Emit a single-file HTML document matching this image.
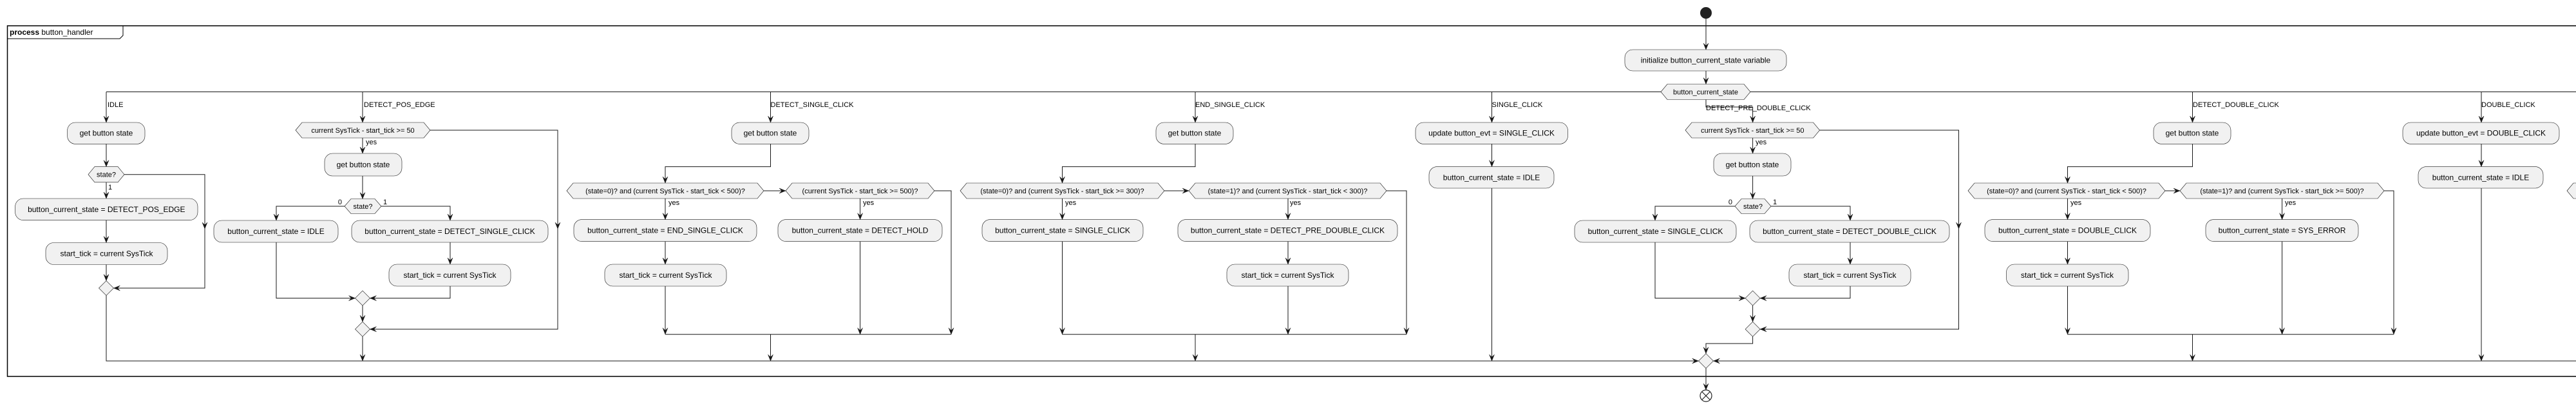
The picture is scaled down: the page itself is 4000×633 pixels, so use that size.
<!DOCTYPE html>
<html><head><meta charset="utf-8"><style>
html,body{margin:0;padding:0;background:#fff;}
svg{display:block;}
text{font-family:"Liberation Sans",sans-serif;fill:#000;}
.b{font-size:12px;text-anchor:middle;}
.h{font-size:11px;text-anchor:middle;}
.l{font-size:11px;}
rect{fill:#F1F1F1;stroke:#181818;stroke-width:0.6;}
.hx{fill:#F1F1F1;stroke:#181818;stroke-width:0.6;}
.ln{fill:none;stroke:#181818;stroke-width:1;}
.a{fill:#181818;stroke:#181818;stroke-width:0.5;}
</style></head><body>
<svg width="4000" height="633" viewBox="0 0 4000 633" xmlns="http://www.w3.org/2000/svg">
<!-- frame -->
<rect x="11.5" y="40" width="4100" height="544" style="fill:none;stroke:#000;stroke-width:1.5"/>
<path d="M11.5,60 L186,60 L191,55 L191,40" style="fill:none;stroke:#000;stroke-width:1"/>
<text x="15" y="54" class="l" style="font-size:12px"><tspan font-weight="bold">process</tspan> button_handler</text>

<!-- start -->
<circle cx="2649" cy="20" r="9" fill="#222"/>
<path class="ln" d="M2649,29 V77"/><polygon class="a" points="2645,67 2649,77 2653,67 2649,71"/>
<rect x="2523" y="77" width="251" height="33" rx="12.5"/>
<text class="b" x="2648.5" y="97.5">initialize button_current_state variable</text>
<path class="ln" d="M2649,110 V130.5"/><polygon class="a" points="2645,120.5 2649,130.5 2653,120.5 2649,124.5"/>
<polygon class="hx" points="2579,142.5 2589,130.5 2708,130.5 2718,142.5 2708,154.5 2589,154.5"/>
<text class="h" x="2648.5" y="146.5">button_current_state</text>
<path class="ln" d="M165,142.5 H2579 M2718,142.5 H4000"/>

<!-- main merge -->
<path class="ln" d="M165,458.5 V560 H2637.5 M4000,560 H2660.5"/>
<polygon class="a" points="2627.5,556 2637.5,560 2627.5,564 2631.5,560"/>
<polygon class="a" points="2670.5,556 2660.5,560 2670.5,564 2666.5,560"/>
<polygon class="hx" points="2637.5,560 2649,548.5 2660.5,560 2649,571.5"/>
<path class="ln" d="M2649,571.5 V605"/><polygon class="a" points="2645,595 2649,605 2653,595 2649,599"/>
<circle cx="2649" cy="614" r="9" fill="#fff" stroke="#222" stroke-width="1.2"/>
<path d="M2643,608 L2655,620 M2655,608 L2643,620" stroke="#222" stroke-width="1.2"/>

<!-- Branch IDLE -->
<path class="ln" d="M165,142.5 V190"/><polygon class="a" points="161,180 165,190 169,180 165,184"/>
<text class="l" x="167" y="166">IDLE</text>
<rect x="104.6" y="190" width="120.4" height="33.4" rx="12.5"/>
<text class="b" x="165" y="210.7">get button state</text>
<path class="ln" d="M165,223.4 V258.6"/><polygon class="a" points="161,248.6 165,258.6 169,248.6 165,252.6"/>
<polygon class="hx" points="137,270.7 147,258.6 183,258.6 193,270.7 183,282.8 147,282.8"/>
<text class="h" x="165" y="274.7">state?</text>
<text class="l" x="168" y="294">1</text>
<path class="ln" d="M165,282.8 V308"/><polygon class="a" points="161,298 165,308 169,298 165,302"/>
<path class="ln" d="M193,270.7 H318 V447 H176.5"/>
<polygon class="a" points="314,345 318,355 322,345 318,349"/>
<polygon class="a" points="186.5,443 176.5,447 186.5,451 182.5,447"/>
<rect x="23.6" y="308" width="283.4" height="33.6" rx="12.5"/>
<text class="b" x="165.3" y="328.8">button_current_state = DETECT_POS_EDGE</text>
<path class="ln" d="M165,341.6 V376.5"/><polygon class="a" points="161,366.5 165,376.5 169,366.5 165,370.5"/>
<rect x="71" y="376.5" width="189" height="34" rx="12.5"/>
<text class="b" x="165.5" y="397.5">start_tick = current SysTick</text>
<path class="ln" d="M165,410.5 V435.5"/><polygon class="a" points="161,425.5 165,435.5 169,425.5 165,429.5"/>
<polygon class="hx" points="153.5,447 165,435.5 176.5,447 165,458.5"/>

<!-- Branch DETECT_POS_EDGE -->
<path class="ln" d="M563,142.5 V190"/><polygon class="a" points="559,180 563,190 567,180 563,184"/>
<text class="l" x="565" y="166">DETECT_POS_EDGE</text>
<polygon class="hx" points="459,202 469,190 658,190 668,202 658,214 469,214"/>
<text class="h" x="563.5" y="206">current SysTick - start_tick &gt;= 50</text>
<text class="l" x="568" y="224">yes</text>
<path class="ln" d="M563,214 V238"/><polygon class="a" points="559,228 563,238 567,228 563,232"/>
<rect x="504" y="238" width="120" height="35" rx="12.5"/>
<text class="b" x="564" y="259.5">get button state</text>
<path class="ln" d="M563,273 V308.5"/><polygon class="a" points="559,298.5 563,308.5 567,298.5 563,302.5"/>
<polygon class="hx" points="535,320 545,308.5 582,308.5 592,320 582,331.5 545,331.5"/>
<text class="h" x="563.5" y="324">state?</text>
<text class="l" x="531" y="317" text-anchor="end">0</text>
<text class="l" x="595" y="317">1</text>
<path class="ln" d="M535,320 H429 V342 M592,320 H699 V342"/>
<polygon class="a" points="425,332 429,342 433,332 429,336"/>
<polygon class="a" points="695,332 699,342 703,332 699,336"/>
<rect x="332" y="342" width="193" height="34" rx="12.5"/>
<text class="b" x="428.5" y="363">button_current_state = IDLE</text>
<rect x="546" y="342" width="305" height="34" rx="12.5"/>
<text class="b" x="698.5" y="363">button_current_state = DETECT_SINGLE_CLICK</text>
<path class="ln" d="M699,376 V410"/><polygon class="a" points="695,400 699,410 703,400 699,404"/>
<rect x="604" y="410" width="189" height="34" rx="12.5"/>
<text class="b" x="698.5" y="431">start_tick = current SysTick</text>
<path class="ln" d="M429,376 V462.6 H551.5 M699,444 V462.6 H574.5"/>
<polygon class="a" points="541.5,458.6 551.5,462.6 541.5,466.6 545.5,462.6"/>
<polygon class="a" points="584.5,458.6 574.5,462.6 584.5,466.6 580.5,462.6"/>
<polygon class="hx" points="551.5,462.6 563,451.1 574.5,462.6 563,474.1"/>
<path class="ln" d="M563,474.1 V499.2"/><polygon class="a" points="559,489.2 563,499.2 567,489.2 563,493.2"/>
<polygon class="hx" points="551.5,510.7 563,499.2 574.5,510.7 563,522.2"/>
<path class="ln" d="M668,202 H866 V510.7 H574.5"/>
<polygon class="a" points="862,345 866,355 870,345 866,349"/>
<polygon class="a" points="584.5,506.7 574.5,510.7 584.5,514.7 580.5,510.7"/>
<path class="ln" d="M563,522.2 V560"/><polygon class="a" points="559,550 563,560 567,550 563,554"/>

<!-- Branch DETECT_SINGLE_CLICK -->
<path class="ln" d="M1196.5,142.5 V190"/><polygon class="a" points="1192.5,180 1196.5,190 1200.5,180 1196.5,184"/>
<text class="l" x="1196.5" y="166">DETECT_SINGLE_CLICK</text>
<rect x="1136" y="190" width="120" height="33.4" rx="12.5"/>
<text class="b" x="1196" y="210.7">get button state</text>
<path class="ln" d="M1196.5,223.4 V258.6 H1033 V284"/><polygon class="a" points="1029,274 1033,284 1037,274 1033,278"/>
<polygon class="hx" points="880,296 890,284 1176,284 1186,296 1176,308 890,308"/>
<text class="h" x="1033" y="300">(state=0)? and (current SysTick - start_tick &lt; 500)?</text>
<path class="ln" d="M1186,296 H1220"/><polygon class="a" points="1210,292 1220,296 1210,300 1214,296"/>
<polygon class="hx" points="1220,296 1230,284 1441,284 1451,296 1441,308 1230,308"/>
<text class="h" x="1335.5" y="300">(current SysTick - start_tick &gt;= 500)?</text>
<text class="l" x="1038" y="318">yes</text>
<text class="l" x="1340" y="318">yes</text>
<path class="ln" d="M1033,308 V340.6 M1335.6,308 V340.6"/>
<polygon class="a" points="1029,330.6 1033,340.6 1037,330.6 1033,334.6"/>
<polygon class="a" points="1331.6,330.6 1335.6,340.6 1339.6,330.6 1335.6,334.6"/>
<rect x="891" y="340.6" width="284" height="34" rx="12.5"/>
<text class="b" x="1033" y="361.6">button_current_state = END_SINGLE_CLICK</text>
<rect x="1208" y="340.6" width="255" height="34" rx="12.5"/>
<text class="b" x="1335.5" y="361.6">button_current_state = DETECT_HOLD</text>
<path class="ln" d="M1033,374.6 V410"/><polygon class="a" points="1029,400 1033,410 1037,400 1033,404"/>
<rect x="939" y="410" width="189" height="34" rx="12.5"/>
<text class="b" x="1033.5" y="431">start_tick = current SysTick</text>
<path class="ln" d="M1033,444 V518.7 M1335.6,374.6 V518.7 M1451,296 H1477 V518.7 M1033,518.7 H1477 M1196.5,518.7 V560"/>
<polygon class="a" points="1029,508.7 1033,518.7 1037,508.7 1033,512.7"/>
<polygon class="a" points="1331.6,508.7 1335.6,518.7 1339.6,508.7 1335.6,512.7"/>
<polygon class="a" points="1473,508.7 1477,518.7 1481,508.7 1477,512.7"/>
<polygon class="a" points="1192.5,550 1196.5,560 1200.5,550 1196.5,554"/>

<!-- Branch END_SINGLE_CLICK -->
<path class="ln" d="M1856,142.5 V190"/><polygon class="a" points="1852,180 1856,190 1860,180 1856,184"/>
<text class="l" x="1856" y="166">END_SINGLE_CLICK</text>
<rect x="1795" y="190" width="120" height="33.4" rx="12.5"/>
<text class="b" x="1855" y="210.7">get button state</text>
<path class="ln" d="M1856,223.4 V258.6 H1649.5 V284"/><polygon class="a" points="1645.5,274 1649.5,284 1653.5,274 1649.5,278"/>
<polygon class="hx" points="1491,296 1501,284 1798,284 1808,296 1798,308 1501,308"/>
<text class="h" x="1649.5" y="300">(state=0)? and (current SysTick - start_tick &gt;= 300)?</text>
<path class="ln" d="M1808,296 H1846"/><polygon class="a" points="1836,292 1846,296 1836,300 1840,296"/>
<polygon class="hx" points="1846,296 1856,284 2143,284 2153,296 2143,308 1856,308"/>
<text class="h" x="1999.5" y="300">(state=1)? and (current SysTick - start_tick &lt; 300)?</text>
<text class="l" x="1654" y="318">yes</text>
<text class="l" x="2003" y="318">yes</text>
<path class="ln" d="M1649.5,308 V340.6 M2000,308 V340.6"/>
<polygon class="a" points="1645.5,330.6 1649.5,340.6 1653.5,330.6 1649.5,334.6"/>
<polygon class="a" points="1996,330.6 2000,340.6 2004,330.6 2000,334.6"/>
<rect x="1525" y="340.6" width="250" height="34" rx="12.5"/>
<text class="b" x="1650" y="361.6">button_current_state = SINGLE_CLICK</text>
<rect x="1829" y="340.6" width="341" height="34" rx="12.5"/>
<text class="b" x="1999.5" y="361.6">button_current_state = DETECT_PRE_DOUBLE_CLICK</text>
<path class="ln" d="M2000,374.6 V410"/><polygon class="a" points="1996,400 2000,410 2004,400 2000,404"/>
<rect x="1905" y="410" width="189" height="34" rx="12.5"/>
<text class="b" x="1999.5" y="431">start_tick = current SysTick</text>
<path class="ln" d="M2000,444 V518.7 M1649.5,374.6 V518.7 M2153,296 H2184 V518.7 M1649.5,518.7 H2184 M1856,518.7 V560"/>
<polygon class="a" points="1645.5,508.7 1649.5,518.7 1653.5,508.7 1649.5,512.7"/>
<polygon class="a" points="1996,508.7 2000,518.7 2004,508.7 2000,512.7"/>
<polygon class="a" points="2180,508.7 2184,518.7 2188,508.7 2184,512.7"/>
<polygon class="a" points="1852,550 1856,560 1860,550 1856,554"/>

<!-- Branch SINGLE_CLICK -->
<path class="ln" d="M2316.5,142.5 V190"/><polygon class="a" points="2312.5,180 2316.5,190 2320.5,180 2316.5,184"/>
<text class="l" x="2316.5" y="166">SINGLE_CLICK</text>
<rect x="2198" y="190" width="236.5" height="33.4" rx="12.5"/>
<text class="b" x="2316" y="210.7">update button_evt = SINGLE_CLICK</text>
<path class="ln" d="M2316.5,223.4 V258.6"/><polygon class="a" points="2312.5,248.6 2316.5,258.6 2320.5,248.6 2316.5,252.6"/>
<rect x="2219" y="258.6" width="194" height="33.4" rx="12.5"/>
<text class="b" x="2316" y="279.3">button_current_state = IDLE</text>
<path class="ln" d="M2316.5,292 V560"/><polygon class="a" points="2312.5,550 2316.5,560 2320.5,550 2316.5,554"/>

<!-- Branch DETECT_PRE_DOUBLE_CLICK -->
<path class="ln" d="M2649,154.5 V166 H2721.6 V190"/><polygon class="a" points="2717.6,180 2721.6,190 2725.6,180 2721.6,184"/>
<text class="l" x="2649" y="171">DETECT_PRE_DOUBLE_CLICK</text>
<polygon class="hx" points="2617,202 2627,190 2815.6,190 2825.6,202 2815.6,214 2627,214"/>
<text class="h" x="2721.3" y="206">current SysTick - start_tick &gt;= 50</text>
<text class="l" x="2726" y="224">yes</text>
<path class="ln" d="M2721.6,214 V238"/><polygon class="a" points="2717.6,228 2721.6,238 2725.6,228 2721.6,232"/>
<rect x="2661" y="238" width="120" height="35" rx="12.5"/>
<text class="b" x="2721" y="259.5">get button state</text>
<path class="ln" d="M2721.6,273 V308.5"/><polygon class="a" points="2717.6,298.5 2721.6,308.5 2725.6,298.5 2721.6,302.5"/>
<polygon class="hx" points="2694,320 2704,308.5 2740,308.5 2750,320 2740,331.5 2704,331.5"/>
<text class="h" x="2722" y="324">state?</text>
<text class="l" x="2690" y="317" text-anchor="end">0</text>
<text class="l" x="2753" y="317">1</text>
<path class="ln" d="M2694,320 H2570 V342 M2750,320 H2873 V342"/>
<polygon class="a" points="2566,332 2570,342 2574,332 2570,336"/>
<polygon class="a" points="2869,332 2873,342 2877,332 2873,336"/>
<rect x="2445" y="342" width="251" height="34" rx="12.5"/>
<text class="b" x="2570.5" y="363">button_current_state = SINGLE_CLICK</text>
<rect x="2717" y="342" width="310" height="34" rx="12.5"/>
<text class="b" x="2872" y="363">button_current_state = DETECT_DOUBLE_CLICK</text>
<path class="ln" d="M2873,376 V410"/><polygon class="a" points="2869,400 2873,410 2877,400 2873,404"/>
<rect x="2778" y="410" width="189" height="34" rx="12.5"/>
<text class="b" x="2872.5" y="431">start_tick = current SysTick</text>
<path class="ln" d="M2570,376 V462.6 H2710.1 M2873,444 V462.6 H2733.1"/>
<polygon class="a" points="2700.1,458.6 2710.1,462.6 2700.1,466.6 2704.1,462.6"/>
<polygon class="a" points="2743.1,458.6 2733.1,462.6 2743.1,466.6 2739.1,462.6"/>
<polygon class="hx" points="2710.1,462.6 2721.6,451.1 2733.1,462.6 2721.6,474.1"/>
<path class="ln" d="M2721.6,474.1 V499.2"/><polygon class="a" points="2717.6,489.2 2721.6,499.2 2725.6,489.2 2721.6,493.2"/>
<polygon class="hx" points="2710.1,510.7 2721.6,499.2 2733.1,510.7 2721.6,522.2"/>
<path class="ln" d="M2825.6,202 H3041.5 V510.7 H2733.1"/>
<polygon class="a" points="3037.5,345 3041.5,355 3045.5,345 3041.5,349"/>
<polygon class="a" points="2743.1,506.7 2733.1,510.7 2743.1,514.7 2739.1,510.7"/>
<path class="ln" d="M2721.6,522.2 V533 H2649 V548.5"/>
<polygon class="a" points="2645,538.5 2649,548.5 2653,538.5 2649,542.5"/>

<!-- Branch DETECT_DOUBLE_CLICK -->
<path class="ln" d="M3404.5,142.5 V190"/><polygon class="a" points="3400.5,180 3404.5,190 3408.5,180 3404.5,184"/>
<text class="l" x="3405" y="166">DETECT_DOUBLE_CLICK</text>
<rect x="3344" y="190" width="120" height="33.4" rx="12.5"/>
<text class="b" x="3404" y="210.7">get button state</text>
<path class="ln" d="M3404.5,223.4 V258.6 H3210.5 V284"/><polygon class="a" points="3206.5,274 3210.5,284 3214.5,274 3210.5,278"/>
<polygon class="hx" points="3056,296 3066,284 3352,284 3362,296 3352,308 3066,308"/>
<text class="h" x="3209" y="300">(state=0)? and (current SysTick - start_tick &lt; 500)?</text>
<path class="ln" d="M3362,296 H3385"/><polygon class="a" points="3375,292 3385,296 3375,300 3379,296"/>
<polygon class="hx" points="3385,296 3395,284 3692,284 3702,296 3692,308 3395,308"/>
<text class="h" x="3543.5" y="300">(state=1)? and (current SysTick - start_tick &gt;= 500)?</text>
<text class="l" x="3215" y="318">yes</text>
<text class="l" x="3548" y="318">yes</text>
<path class="ln" d="M3210.5,308 V340.6 M3543.6,308 V340.6"/>
<polygon class="a" points="3206.5,330.6 3210.5,340.6 3214.5,330.6 3210.5,334.6"/>
<polygon class="a" points="3539.6,330.6 3543.6,340.6 3547.6,330.6 3543.6,334.6"/>
<rect x="3082" y="340.6" width="257" height="34" rx="12.5"/>
<text class="b" x="3210.5" y="361.6">button_current_state = DOUBLE_CLICK</text>
<rect x="3425" y="340.6" width="237" height="34" rx="12.5"/>
<text class="b" x="3543.5" y="361.6">button_current_state = SYS_ERROR</text>
<path class="ln" d="M3210.5,374.6 V410"/><polygon class="a" points="3206.5,400 3210.5,410 3214.5,400 3210.5,404"/>
<rect x="3115.5" y="410" width="189.5" height="34" rx="12.5"/>
<text class="b" x="3210" y="431">start_tick = current SysTick</text>
<path class="ln" d="M3210.5,444 V518.7 M3543.6,374.6 V518.7 M3702,296 H3717 V518.7 M3210.5,518.7 H3717 M3404.5,518.7 V560"/>
<polygon class="a" points="3206.5,508.7 3210.5,518.7 3214.5,508.7 3210.5,512.7"/>
<polygon class="a" points="3539.6,508.7 3543.6,518.7 3547.6,508.7 3543.6,512.7"/>
<polygon class="a" points="3713,508.7 3717,518.7 3721,508.7 3717,512.7"/>
<polygon class="a" points="3400.5,550 3404.5,560 3408.5,550 3404.5,554"/>

<!-- Branch DOUBLE_CLICK -->
<path class="ln" d="M3853,142.5 V190"/><polygon class="a" points="3849,180 3853,190 3857,180 3853,184"/>
<text class="l" x="3853" y="166">DOUBLE_CLICK</text>
<rect x="3731" y="190" width="243" height="33.4" rx="12.5"/>
<text class="b" x="3852.5" y="210.7">update button_evt = DOUBLE_CLICK</text>
<path class="ln" d="M3853,223.4 V258.6"/><polygon class="a" points="3849,248.6 3853,258.6 3857,248.6 3853,252.6"/>
<rect x="3755" y="258.6" width="194" height="33.4" rx="12.5"/>
<text class="b" x="3852" y="279.3">button_current_state = IDLE</text>
<path class="ln" d="M3853,292 V560"/><polygon class="a" points="3849,550 3853,560 3857,550 3853,554"/>

<!-- partial next branch -->
<polygon class="hx" points="3986,296 3996,284 4020,284 4020,308 3996,308"/>
</svg>
</body></html>
